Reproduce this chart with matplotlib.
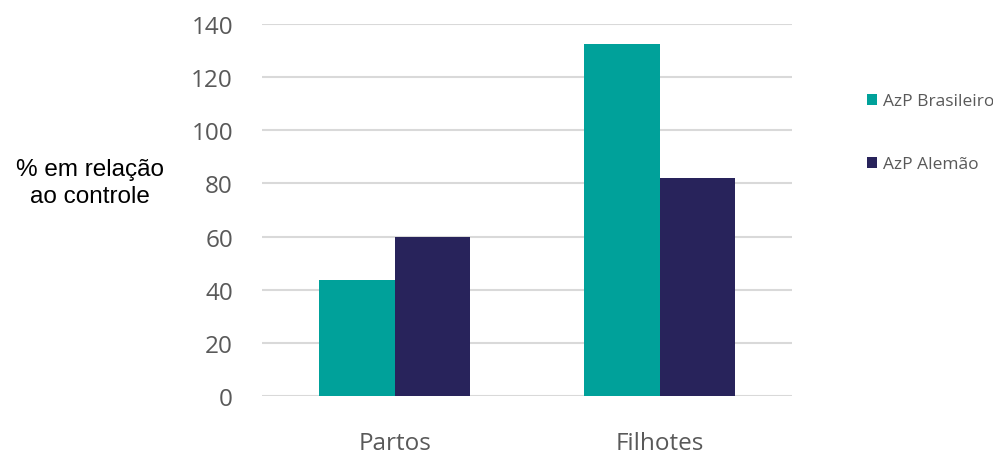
import numpy as np
import matplotlib.pyplot as plt

# dados do gráfico
categorias = ["Partos", "Filhotes"]
series = ["AzP Brasileiro", "AzP Alemão"]
brasileiro = [43.6, 132.3]
alemao = [60.0, 82.1]
cores = ["#00a19a", "#28235b"]

fig = plt.figure(figsize=(9.93, 4.56), dpi=100)
ax = fig.add_axes([0.264, 0.1294, 0.534, 0.8158])

x = np.arange(len(categorias))
largura = 0.285
ax.bar(x - largura / 2, brasileiro, largura, color=cores[0], label=series[0], zorder=3)
ax.bar(x + largura / 2, alemao, largura, color=cores[1], label=series[1], zorder=3)

ax.set_xlim(-0.5, 1.5)
ax.set_ylim(0, 140)
ax.set_yticks(range(0, 141, 20))
ax.set_xticks(x)
ax.set_xticklabels(categorias, fontsize=17.5, color="#595959", family="Open Sans")
for lbl in ax.get_yticklabels():
    lbl.set_fontsize(17.5)
    lbl.set_color("#595959")
    lbl.set_family("Open Sans")
ax.tick_params(axis="y", length=0, pad=21)
ax.tick_params(axis="x", length=0, pad=25)
for s in ax.spines.values():
    s.set_visible(False)
ax.grid(axis="y", color="#d9d9d9", linewidth=1.5, zorder=0)

# rótulo do eixo y, fora do eixo como no original
fig.text(0.091, 0.598, "% em relação\nao controle", ha="center", va="center",
         fontsize=17.5, family="Liberation Sans", color="black", linespacing=1.3)

leg = fig.legend(loc="upper left", bbox_to_anchor=(0.866, 0.808), frameon=False,
                 handlelength=0.6, handleheight=0.6, handletextpad=0.35,
                 labelspacing=2.7, borderaxespad=0, prop={"family": "Open Sans", "size": 12.5})
for t in leg.get_texts():
    t.set_color("#595959")

fig.savefig("out.png", dpi=100)
